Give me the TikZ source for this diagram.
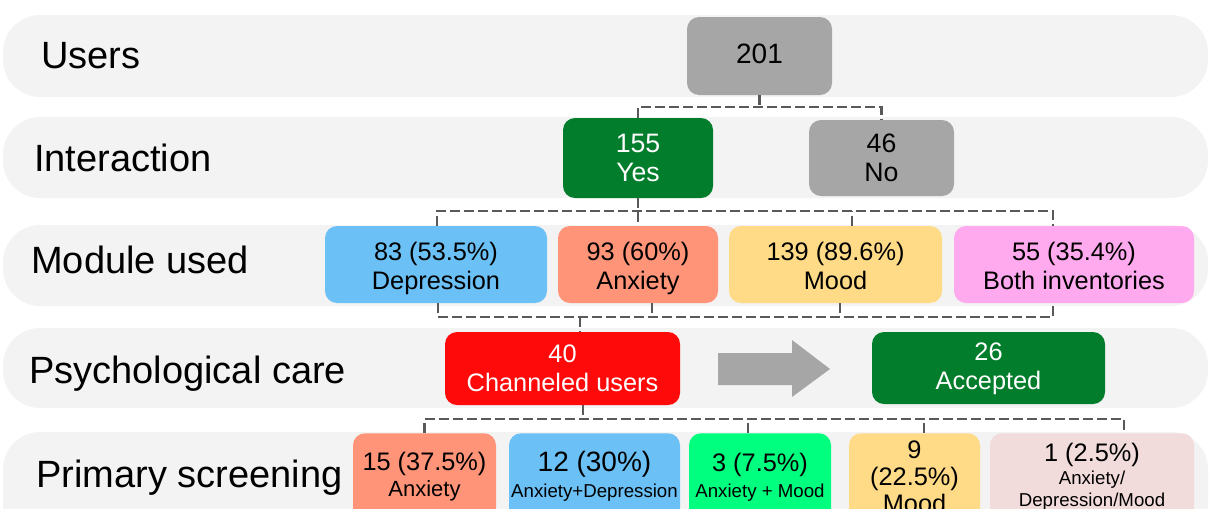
\documentclass[tikz,border=0pt]{standalone}
\usepackage{fontspec}
\setmainfont{Liberation Sans}
\usetikzlibrary{calc}
\definecolor{bandgray}{HTML}{F3F3F3}
\definecolor{boxgray}{HTML}{A6A6A6}
\definecolor{dgreen}{HTML}{017D2B}
\definecolor{lblue}{HTML}{6BC0F5}
\definecolor{salmon}{HTML}{FF9478}
\definecolor{lyellow}{HTML}{FFDB87}
\definecolor{lpink}{HTML}{FFA9EE}
\definecolor{bred}{HTML}{FF0A0A}
\definecolor{sgreen}{HTML}{00FF7F}
\definecolor{rosegray}{HTML}{F2DCDB}
\definecolor{lgray}{HTML}{595959}
\tikzset{
  band/.style={fill=bandgray, rounded corners=28pt},
  box/.style={rounded corners=9pt, inner sep=0pt, align=center, font=\fontsize{19}{21.75}\selectfont},
  conn/.style={draw=lgray, line width=2.2pt, dash pattern=on 7.5pt off 3pt},
  lab/.style={anchor=base west, inner sep=0pt, font=\fontsize{28.5}{33}\selectfont},
  sz/.style 2 args={minimum width=#1*0.75pt, minimum height=#2*0.75pt},
}
\newcommand{\tallstrut}{\rule{0pt}{20pt}}
\newcommand{\deepstrut}{\rule[-4.5pt]{0pt}{0pt}}
\begin{document}
\begin{tikzpicture}[x=0.75pt,y=-0.75pt]
\useasboundingbox (0,0) rectangle (1209,508);
\clip (0,0) rectangle (1209,508);
\fill[white] (0,0) rectangle (1209,508);
% bands
\fill[band] (3,15) rectangle (1208,97);
\fill[band] (3,117) rectangle (1208,198);
\fill[band] (3,225) rectangle (1208,306);
\fill[band] (3,328) rectangle (1208,408);
\fill[band] (3,432) rectangle (1208,540);
% labels
\node[lab] (lu) at (41,68) {Users};
\node[lab] (li) at (34,171) {Interaction};
\node[lab] (lm) at (31,273) {Module used};
\node[lab] (lp) at (29,383) {Psychological care};
\node[lab] (ls) at (36,487) {Primary screening};
% row 1
\node[box, fill=boxgray, sz={145}{78}, font=\fontsize{21}{25}\selectfont] (n201) at (759.5,56) {201\rule[-4pt]{0pt}{0pt}};
% row 2
\node[box, fill=dgreen, text=white, sz={150}{80}, font=\fontsize{20}{21.75}\selectfont] (yes) at (638,158) {155\\Yes};
\node[box, fill=boxgray, sz={145}{76}, font=\fontsize{20}{21.75}\selectfont] (no) at (881.5,158) {46\\No};
% row 3
\node[box, fill=lblue, sz={222}{77}] (dep) at (436,264.5) {\tallstrut 83 (53.5\%)\\Depression\deepstrut};
\node[box, fill=salmon, sz={160}{77}] (anx) at (638,264.5) {\tallstrut 93 (60\%)\\Anxiety\deepstrut};
\node[box, fill=lyellow, sz={213}{77}] (mood) at (835.5,264.5) {\tallstrut 139 (89.6\%)\\Mood\deepstrut};
\node[box, fill=lpink, sz={240}{77}] (both) at (1074,264.5) {\tallstrut 55 (35.4\%)\\Both inventories\deepstrut};
% row 4
\node[box, fill=bred, text=white, sz={235}{73}] (chan) at (562.5,368.5) {40\\Channeled users};
\node[box, fill=dgreen, text=white, sz={233}{72}] (acc) at (988.5,368) {\rule{0pt}{15pt}26\\Accepted};
\fill[boxgray] (718,353) -- (792,353) -- (792,340) -- (830,369) -- (792,397) -- (792,385) -- (718,385) -- cycle;
% row 5
\node[box, fill=salmon, sz={143}{87}, anchor=north, font=\fontsize{19}{19.5}\selectfont] (s1) at (424.5,433) {15 (37.5\%)\\{\fontsize{16.5}{19.5}\selectfont Anxiety}};
\node[box, fill=lblue, sz={171}{87}, anchor=north, font=\fontsize{21}{19.5}\selectfont] (s2) at (594.5,433) {12 (30\%)\\{\fontsize{14}{19.5}\selectfont Anxiety+Depression}};
\node[box, fill=sgreen, sz={142}{87}, anchor=north, font=\fontsize{19}{19.5}\selectfont] (s3) at (760,433) {3 (7.5\%)\\{\fontsize{14}{19.5}\selectfont Anxiety + Mood}};
\node[box, fill=lyellow, sz={131}{87}, anchor=north, font=\fontsize{19}{20}\selectfont] (s4) at (914.5,433) {9\\(22.5\%)\\Mood};
\node[box, fill=rosegray, sz={204}{87}, anchor=north, font=\fontsize{19}{17}\selectfont] (s5) at (1092,433) {1 (2.5\%)\\{\fontsize{14}{17}\selectfont Anxiety/}\\{\fontsize{14}{16}\selectfont Depression/Mood}};
% connectors 1
\coordinate (j1) at (759,107);
\draw[conn] (n201.south) -- (n201.south |- j1);
\draw[conn] (yes.north) |- (j1) -| (no.north);
% connectors 2
\coordinate (j2) at (638,211);
\draw[conn] (yes.south) -- (anx.north);
\draw[conn] ($(dep.north)+(1,0)$) |- (j2) -| ($(both.north)+(-21,0)$);
\coordinate (m1) at ($(mood.north)+(16.5,0)$);
\draw[conn] (m1) -- (m1 |- j2);
% connectors 3
\coordinate (j3) at (580,317);
\draw[conn] ($(dep.south)+(2,0)$) |- (j3) -| ($(both.south)+(-21,0)$);
\draw[conn] (j3) -- (j3 |- chan.north);
\coordinate (a3) at ($(anx.south)+(14,0)$);
\draw[conn] (a3) -- (a3 |- j3);
\coordinate (m3) at ($(mood.south)+(4.5,0)$);
\draw[conn] (m3) -- (m3 |- j3);
% connectors 4
\coordinate (j4) at (583,419);
\draw[conn] (chan.south -| j4) -- (j4);
\draw[conn] (s1.north) |- (j4) -| ($(s5.north)+(32,0)$);
\coordinate (t3) at ($(s3.north)+(-12,0)$);
\draw[conn] (t3) -- (t3 |- j4);
\coordinate (t4) at ($(s4.north)+(9.5,0)$);
\draw[conn] (t4) -- (t4 |- j4);
\end{tikzpicture}
\end{document}
